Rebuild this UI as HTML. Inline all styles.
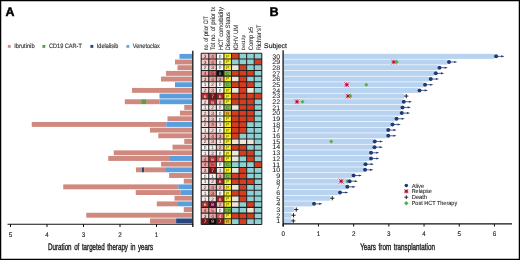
<!DOCTYPE html><html><head><meta charset="utf-8"><style>html,body{margin:0;padding:0;background:#fff;}svg{display:block;will-change:transform;}text{font-family:"Liberation Sans", sans-serif;text-rendering:geometricPrecision;}</style></head><body>
<svg width="520" height="260" viewBox="0 0 520 260">
<rect x="0" y="0" width="520" height="260" fill="#fff"/>
<rect x="0.6" y="0.6" width="518.8" height="258.8" fill="none" stroke="#000" stroke-width="1.3"/>
<text x="5.4" y="16.3" font-size="12.4" font-weight="bold" fill="#000" stroke="#000" stroke-width="0.5">A</text>
<text x="269.5" y="16.4" font-size="12.6" font-weight="bold" fill="#000" stroke="#000" stroke-width="0.4">B</text>
<rect x="7.80" y="44.95" width="2.9" height="2.9" fill="#d98a82"/>
<text x="14.20" y="48.2" font-size="6.3" fill="#333" stroke="#333" stroke-width="0.15" textLength="20.4" lengthAdjust="spacingAndGlyphs">Ibrutinib</text>
<rect x="42.40" y="44.95" width="2.9" height="2.9" fill="#4ea63e"/>
<text x="49.00" y="48.2" font-size="6.3" fill="#333" stroke="#333" stroke-width="0.15" textLength="32.8" lengthAdjust="spacingAndGlyphs">CD19 CAR-T</text>
<rect x="90.40" y="44.95" width="2.9" height="2.9" fill="#27467f"/>
<text x="96.80" y="48.2" font-size="6.3" fill="#333" stroke="#333" stroke-width="0.15" textLength="21.6" lengthAdjust="spacingAndGlyphs">Idelalisib</text>
<rect x="126.40" y="44.95" width="2.9" height="2.9" fill="#6aaae4"/>
<text x="132.80" y="48.2" font-size="6.3" fill="#333" stroke="#333" stroke-width="0.15" textLength="27.1" lengthAdjust="spacingAndGlyphs">Venetoclax</text>
<rect x="179.50" y="53.90" width="12.70" height="4.90" fill="#5b9edc"/>
<rect x="175.00" y="59.57" width="17.20" height="4.90" fill="#d0897f"/>
<rect x="177.50" y="65.25" width="14.70" height="4.90" fill="#d0897f"/>
<rect x="166.00" y="70.92" width="26.20" height="4.90" fill="#d0897f"/>
<rect x="161.00" y="76.60" width="31.20" height="4.90" fill="#d0897f"/>
<rect x="175.00" y="82.27" width="17.20" height="4.90" fill="#5b9edc"/>
<rect x="132.00" y="87.94" width="60.20" height="4.90" fill="#d0897f"/>
<rect x="159.50" y="93.62" width="32.70" height="4.90" fill="#5b9edc"/>
<rect x="124.80" y="99.29" width="16.35" height="4.90" fill="#d0897f"/>
<rect x="141.15" y="99.29" width="4.85" height="4.90" fill="#4ea63e"/>
<rect x="146.00" y="99.29" width="13.40" height="4.90" fill="#d0897f"/>
<rect x="159.40" y="99.29" width="32.80" height="4.90" fill="#5b9edc"/>
<rect x="184.25" y="104.97" width="7.95" height="4.90" fill="#d0897f"/>
<rect x="180.00" y="110.64" width="12.20" height="4.90" fill="#d0897f"/>
<rect x="167.50" y="116.31" width="24.70" height="4.90" fill="#d0897f"/>
<rect x="31.75" y="121.99" width="134.50" height="4.90" fill="#d0897f"/>
<rect x="166.25" y="121.99" width="25.95" height="4.90" fill="#5b9edc"/>
<rect x="150.00" y="127.66" width="42.20" height="4.90" fill="#d0897f"/>
<rect x="158.25" y="133.34" width="33.95" height="4.90" fill="#d0897f"/>
<rect x="184.25" y="139.01" width="7.95" height="4.90" fill="#d0897f"/>
<rect x="172.50" y="144.68" width="19.70" height="4.90" fill="#d0897f"/>
<rect x="113.75" y="150.36" width="78.45" height="4.90" fill="#d0897f"/>
<rect x="108.25" y="156.03" width="61.75" height="4.90" fill="#d0897f"/>
<rect x="170.00" y="156.03" width="22.20" height="4.90" fill="#5b9edc"/>
<rect x="161.10" y="161.71" width="31.10" height="4.90" fill="#d0897f"/>
<rect x="136.00" y="167.38" width="6.00" height="4.90" fill="#d0897f"/>
<rect x="142.00" y="167.38" width="2.20" height="4.90" fill="#27467f"/>
<rect x="144.20" y="167.38" width="20.90" height="4.90" fill="#d0897f"/>
<rect x="165.10" y="167.38" width="27.10" height="4.90" fill="#5b9edc"/>
<rect x="169.10" y="173.05" width="23.10" height="4.90" fill="#d0897f"/>
<rect x="183.75" y="178.73" width="8.45" height="4.90" fill="#d0897f"/>
<rect x="63.25" y="184.40" width="115.00" height="4.90" fill="#d0897f"/>
<rect x="178.25" y="184.40" width="13.95" height="4.90" fill="#5b9edc"/>
<rect x="135.75" y="190.08" width="45.00" height="4.90" fill="#d0897f"/>
<rect x="180.75" y="190.08" width="11.45" height="4.90" fill="#5b9edc"/>
<rect x="174.50" y="195.75" width="17.70" height="4.90" fill="#d0897f"/>
<rect x="156.75" y="201.42" width="21.25" height="4.90" fill="#d0897f"/>
<rect x="178.00" y="201.42" width="14.20" height="4.90" fill="#5b9edc"/>
<rect x="183.75" y="207.10" width="8.45" height="4.90" fill="#d0897f"/>
<rect x="86.25" y="212.77" width="105.95" height="4.90" fill="#d0897f"/>
<rect x="150.10" y="218.45" width="26.00" height="4.90" fill="#d0897f"/>
<rect x="176.10" y="218.45" width="16.10" height="4.90" fill="#27467f"/>
<line x1="192.8" y1="50.8" x2="192.8" y2="227" stroke="#111" stroke-width="1.3"/>
<line x1="7.5" y1="224.3" x2="193.4" y2="224.3" stroke="#111" stroke-width="1.1"/>
<line x1="10.50" y1="224" x2="10.50" y2="227" stroke="#111" stroke-width="1"/>
<text x="10.50" y="236.7" font-size="6.7" fill="#222" stroke="#222" stroke-width="0.12" text-anchor="middle" textLength="3.5" lengthAdjust="spacingAndGlyphs">5</text>
<line x1="47.00" y1="224" x2="47.00" y2="227" stroke="#111" stroke-width="1"/>
<text x="47.00" y="236.7" font-size="6.7" fill="#222" stroke="#222" stroke-width="0.12" text-anchor="middle" textLength="3.5" lengthAdjust="spacingAndGlyphs">4</text>
<line x1="83.50" y1="224" x2="83.50" y2="227" stroke="#111" stroke-width="1"/>
<text x="83.50" y="236.7" font-size="6.7" fill="#222" stroke="#222" stroke-width="0.12" text-anchor="middle" textLength="3.5" lengthAdjust="spacingAndGlyphs">3</text>
<line x1="120.00" y1="224" x2="120.00" y2="227" stroke="#111" stroke-width="1"/>
<text x="120.00" y="236.7" font-size="6.7" fill="#222" stroke="#222" stroke-width="0.12" text-anchor="middle" textLength="3.5" lengthAdjust="spacingAndGlyphs">2</text>
<line x1="156.50" y1="224" x2="156.50" y2="227" stroke="#111" stroke-width="1"/>
<text x="156.50" y="236.7" font-size="6.7" fill="#222" stroke="#222" stroke-width="0.12" text-anchor="middle" textLength="3.5" lengthAdjust="spacingAndGlyphs">1</text>
<text x="48.1" y="250" font-size="9.5" fill="#222" stroke="#222" stroke-width="0.4" word-spacing="1.3" textLength="105" lengthAdjust="spacingAndGlyphs">Duration of targeted therapy in years</text>
<text transform="translate(207.67,50.3) rotate(-90)" x="0" y="0" font-size="6.4" fill="#222" stroke="#222" stroke-width="0.06" textLength="34.2" lengthAdjust="spacingAndGlyphs">no. of prior CIT</text>
<text transform="translate(215.25,50.3) rotate(-90)" x="0" y="0" font-size="6.4" fill="#222" stroke="#222" stroke-width="0.06" textLength="43.4" lengthAdjust="spacingAndGlyphs">Tot no. of prior tx</text>
<text transform="translate(222.82,50.3) rotate(-90)" x="0" y="0" font-size="6.4" fill="#222" stroke="#222" stroke-width="0.06" textLength="43.2" lengthAdjust="spacingAndGlyphs">HCT comorbidity</text>
<text transform="translate(230.40,50.3) rotate(-90)" x="0" y="0" font-size="6.4" fill="#222" stroke="#222" stroke-width="0.06" textLength="38.2" lengthAdjust="spacingAndGlyphs">Disease Status</text>
<text transform="translate(237.97,50.3) rotate(-90)" x="0" y="0" font-size="6.4" fill="#222" stroke="#222" stroke-width="0.06" textLength="25.6" lengthAdjust="spacingAndGlyphs">IGHV UM</text>
<text transform="translate(244.79,50.3) rotate(-90)" x="0" y="0" font-size="4.6" fill="#222" stroke="#222" stroke-width="0.06" textLength="15.4" lengthAdjust="spacingAndGlyphs">Del17p</text>
<text transform="translate(253.12,50.3) rotate(-90)" x="0" y="0" font-size="6.4" fill="#222" stroke="#222" stroke-width="0.06" textLength="23.6" lengthAdjust="spacingAndGlyphs">Comp ≥5</text>
<text transform="translate(260.70,50.3) rotate(-90)" x="0" y="0" font-size="6.4" fill="#222" stroke="#222" stroke-width="0.06" textLength="25.6" lengthAdjust="spacingAndGlyphs">Richter&#39;sT</text>
<rect x="201.20" y="53.30" width="7.58" height="5.71" fill="#f6c8c8"/>
<text transform="translate(204.99,57.85) scale(0.1)" font-size="48" fill="#2a2a2a" text-anchor="middle">3</text>
<rect x="208.77" y="53.30" width="7.58" height="5.71" fill="#f0a0a0"/>
<text transform="translate(212.56,57.85) scale(0.1)" font-size="48" fill="#2a2a2a" text-anchor="middle">4</text>
<rect x="216.35" y="53.30" width="7.58" height="5.71" fill="#ffffff"/>
<text transform="translate(220.14,57.85) scale(0.1)" font-size="48" fill="#2a2a2a" text-anchor="middle">0</text>
<rect x="223.92" y="53.30" width="7.58" height="5.71" fill="#f7ef1e"/>
<text x="227.71" y="57.65" font-size="4.4" fill="#4a4a10" text-anchor="middle">P</text>
<rect x="231.50" y="53.30" width="7.58" height="5.71" fill="#d63d1f"/>
<rect x="239.07" y="53.30" width="7.58" height="5.71" fill="#8fd0d3"/>
<rect x="246.65" y="53.30" width="7.58" height="5.71" fill="#8fd0d3"/>
<rect x="254.22" y="53.30" width="7.58" height="5.71" fill="#8fd0d3"/>
<rect x="201.20" y="59.01" width="7.58" height="5.71" fill="#f6c8c8"/>
<text transform="translate(204.99,63.56) scale(0.1)" font-size="48" fill="#2a2a2a" text-anchor="middle">3</text>
<rect x="208.77" y="59.01" width="7.58" height="5.71" fill="#f0a0a0"/>
<text transform="translate(212.56,63.56) scale(0.1)" font-size="48" fill="#2a2a2a" text-anchor="middle">4</text>
<rect x="216.35" y="59.01" width="7.58" height="5.71" fill="#ffffff"/>
<text transform="translate(220.14,63.56) scale(0.1)" font-size="48" fill="#2a2a2a" text-anchor="middle">0</text>
<rect x="223.92" y="59.01" width="7.58" height="5.71" fill="#f7ef1e"/>
<text x="227.71" y="63.36" font-size="4.4" fill="#4a4a10" text-anchor="middle">P</text>
<rect x="231.50" y="59.01" width="7.58" height="5.71" fill="#8fd0d3"/>
<rect x="239.07" y="59.01" width="7.58" height="5.71" fill="#8fd0d3"/>
<rect x="246.65" y="59.01" width="7.58" height="5.71" fill="#8fd0d3"/>
<rect x="254.22" y="59.01" width="7.58" height="5.71" fill="#d63d1f"/>
<rect x="201.20" y="64.71" width="7.58" height="5.71" fill="#fbdcdc"/>
<text transform="translate(204.99,69.27) scale(0.1)" font-size="48" fill="#2a2a2a" text-anchor="middle">2</text>
<rect x="208.77" y="64.71" width="7.58" height="5.71" fill="#f6c8c8"/>
<text transform="translate(212.56,69.27) scale(0.1)" font-size="48" fill="#2a2a2a" text-anchor="middle">3</text>
<rect x="216.35" y="64.71" width="7.58" height="5.71" fill="#ffffff"/>
<text transform="translate(220.14,69.27) scale(0.1)" font-size="48" fill="#2a2a2a" text-anchor="middle">0</text>
<rect x="223.92" y="64.71" width="7.58" height="5.71" fill="#f7ef1e"/>
<text x="227.71" y="69.07" font-size="4.4" fill="#4a4a10" text-anchor="middle">P</text>
<rect x="231.50" y="64.71" width="7.58" height="5.71" fill="#ede7d8"/>
<rect x="239.07" y="64.71" width="7.58" height="5.71" fill="#d63d1f"/>
<rect x="246.65" y="64.71" width="7.58" height="5.71" fill="#8fd0d3"/>
<rect x="254.22" y="64.71" width="7.58" height="5.71" fill="#8fd0d3"/>
<rect x="201.20" y="70.42" width="7.58" height="5.71" fill="#f0a0a0"/>
<text transform="translate(204.99,74.97) scale(0.1)" font-size="48" fill="#2a2a2a" text-anchor="middle">4</text>
<rect x="208.77" y="70.42" width="7.58" height="5.71" fill="#d85858"/>
<text transform="translate(212.56,74.97) scale(0.1)" font-size="48" fill="#2a2a2a" text-anchor="middle">5</text>
<rect x="216.35" y="70.42" width="7.58" height="5.71" fill="#111111"/>
<text transform="translate(220.14,74.97) scale(0.1)" font-size="48" fill="#999" text-anchor="middle">8</text>
<rect x="223.92" y="70.42" width="7.58" height="5.71" fill="#7cba44"/>
<text x="227.71" y="74.77" font-size="4.4" fill="#4a4a10" text-anchor="middle">C</text>
<rect x="231.50" y="70.42" width="7.58" height="5.71" fill="#d63d1f"/>
<rect x="239.07" y="70.42" width="7.58" height="5.71" fill="#d63d1f"/>
<rect x="246.65" y="70.42" width="7.58" height="5.71" fill="#d63d1f"/>
<rect x="254.22" y="70.42" width="7.58" height="5.71" fill="#8fd0d3"/>
<rect x="201.20" y="76.13" width="7.58" height="5.71" fill="#f6c8c8"/>
<text transform="translate(204.99,80.68) scale(0.1)" font-size="48" fill="#2a2a2a" text-anchor="middle">3</text>
<rect x="208.77" y="76.13" width="7.58" height="5.71" fill="#f0a0a0"/>
<text transform="translate(212.56,80.68) scale(0.1)" font-size="48" fill="#2a2a2a" text-anchor="middle">4</text>
<rect x="216.35" y="76.13" width="7.58" height="5.71" fill="#f0a8a8"/>
<text transform="translate(220.14,80.68) scale(0.1)" font-size="48" fill="#2a2a2a" text-anchor="middle">3</text>
<rect x="223.92" y="76.13" width="7.58" height="5.71" fill="#f7ef1e"/>
<text x="227.71" y="80.48" font-size="4.4" fill="#4a4a10" text-anchor="middle">P</text>
<rect x="231.50" y="76.13" width="7.58" height="5.71" fill="#ede7d8"/>
<rect x="239.07" y="76.13" width="7.58" height="5.71" fill="#d63d1f"/>
<rect x="246.65" y="76.13" width="7.58" height="5.71" fill="#8fd0d3"/>
<rect x="254.22" y="76.13" width="7.58" height="5.71" fill="#8fd0d3"/>
<rect x="201.20" y="81.83" width="7.58" height="5.71" fill="#fdeeee"/>
<text transform="translate(204.99,86.39) scale(0.1)" font-size="48" fill="#2a2a2a" text-anchor="middle">1</text>
<rect x="208.77" y="81.83" width="7.58" height="5.71" fill="#fbdcdc"/>
<text transform="translate(212.56,86.39) scale(0.1)" font-size="48" fill="#2a2a2a" text-anchor="middle">2</text>
<rect x="216.35" y="81.83" width="7.58" height="5.71" fill="#ffffff"/>
<text transform="translate(220.14,86.39) scale(0.1)" font-size="48" fill="#2a2a2a" text-anchor="middle">0</text>
<rect x="223.92" y="81.83" width="7.58" height="5.71" fill="#7cba44"/>
<text x="227.71" y="86.19" font-size="4.4" fill="#4a4a10" text-anchor="middle">C</text>
<rect x="231.50" y="81.83" width="7.58" height="5.71" fill="#d63d1f"/>
<rect x="239.07" y="81.83" width="7.58" height="5.71" fill="#d63d1f"/>
<rect x="246.65" y="81.83" width="7.58" height="5.71" fill="#d63d1f"/>
<rect x="254.22" y="81.83" width="7.58" height="5.71" fill="#8fd0d3"/>
<rect x="201.20" y="87.54" width="7.58" height="5.71" fill="#fbdcdc"/>
<text transform="translate(204.99,92.10) scale(0.1)" font-size="48" fill="#2a2a2a" text-anchor="middle">2</text>
<rect x="208.77" y="87.54" width="7.58" height="5.71" fill="#f6c8c8"/>
<text transform="translate(212.56,92.10) scale(0.1)" font-size="48" fill="#2a2a2a" text-anchor="middle">3</text>
<rect x="216.35" y="87.54" width="7.58" height="5.71" fill="#ffffff"/>
<text transform="translate(220.14,92.10) scale(0.1)" font-size="48" fill="#2a2a2a" text-anchor="middle">0</text>
<rect x="223.92" y="87.54" width="7.58" height="5.71" fill="#f7ef1e"/>
<text x="227.71" y="91.90" font-size="4.4" fill="#4a4a10" text-anchor="middle">P</text>
<rect x="231.50" y="87.54" width="7.58" height="5.71" fill="#ede7d8"/>
<rect x="239.07" y="87.54" width="7.58" height="5.71" fill="#d63d1f"/>
<rect x="246.65" y="87.54" width="7.58" height="5.71" fill="#ede7d8"/>
<rect x="254.22" y="87.54" width="7.58" height="5.71" fill="#8fd0d3"/>
<rect x="201.20" y="93.25" width="7.58" height="5.71" fill="#b83030"/>
<text transform="translate(204.99,97.80) scale(0.1)" font-size="48" fill="#f4e4e4" text-anchor="middle">6</text>
<rect x="208.77" y="93.25" width="7.58" height="5.71" fill="#7c1414"/>
<text transform="translate(212.56,97.80) scale(0.1)" font-size="48" fill="#f4e4e4" text-anchor="middle">7</text>
<rect x="216.35" y="93.25" width="7.58" height="5.71" fill="#a82222"/>
<text transform="translate(220.14,97.80) scale(0.1)" font-size="48" fill="#f4e4e4" text-anchor="middle">6</text>
<rect x="223.92" y="93.25" width="7.58" height="5.71" fill="#f7ef1e"/>
<text x="227.71" y="97.60" font-size="4.4" fill="#4a4a10" text-anchor="middle">P</text>
<rect x="231.50" y="93.25" width="7.58" height="5.71" fill="#d63d1f"/>
<rect x="239.07" y="93.25" width="7.58" height="5.71" fill="#d63d1f"/>
<rect x="246.65" y="93.25" width="7.58" height="5.71" fill="#d63d1f"/>
<rect x="254.22" y="93.25" width="7.58" height="5.71" fill="#d63d1f"/>
<rect x="201.20" y="98.96" width="7.58" height="5.71" fill="#fbdcdc"/>
<text transform="translate(204.99,103.51) scale(0.1)" font-size="48" fill="#2a2a2a" text-anchor="middle">2</text>
<rect x="208.77" y="98.96" width="7.58" height="5.71" fill="#b83030"/>
<text transform="translate(212.56,103.51) scale(0.1)" font-size="48" fill="#f4e4e4" text-anchor="middle">6</text>
<rect x="216.35" y="98.96" width="7.58" height="5.71" fill="#f4bcbc"/>
<text transform="translate(220.14,103.51) scale(0.1)" font-size="48" fill="#2a2a2a" text-anchor="middle">2</text>
<rect x="223.92" y="98.96" width="7.58" height="5.71" fill="#f7ef1e"/>
<text x="227.71" y="103.31" font-size="4.4" fill="#4a4a10" text-anchor="middle">P</text>
<rect x="231.50" y="98.96" width="7.58" height="5.71" fill="#d63d1f"/>
<rect x="239.07" y="98.96" width="7.58" height="5.71" fill="#d63d1f"/>
<rect x="246.65" y="98.96" width="7.58" height="5.71" fill="#d63d1f"/>
<rect x="254.22" y="98.96" width="7.58" height="5.71" fill="#8fd0d3"/>
<rect x="201.20" y="104.66" width="7.58" height="5.71" fill="#fdeeee"/>
<text transform="translate(204.99,109.22) scale(0.1)" font-size="48" fill="#2a2a2a" text-anchor="middle">1</text>
<rect x="208.77" y="104.66" width="7.58" height="5.71" fill="#fbdcdc"/>
<text transform="translate(212.56,109.22) scale(0.1)" font-size="48" fill="#2a2a2a" text-anchor="middle">2</text>
<rect x="216.35" y="104.66" width="7.58" height="5.71" fill="#ffffff"/>
<text transform="translate(220.14,109.22) scale(0.1)" font-size="48" fill="#2a2a2a" text-anchor="middle">0</text>
<rect x="223.92" y="104.66" width="7.58" height="5.71" fill="#7cba44"/>
<text x="227.71" y="109.02" font-size="4.4" fill="#4a4a10" text-anchor="middle">C</text>
<rect x="231.50" y="104.66" width="7.58" height="5.71" fill="#ede7d8"/>
<rect x="239.07" y="104.66" width="7.58" height="5.71" fill="#d63d1f"/>
<rect x="246.65" y="104.66" width="7.58" height="5.71" fill="#d63d1f"/>
<rect x="254.22" y="104.66" width="7.58" height="5.71" fill="#8fd0d3"/>
<rect x="201.20" y="110.37" width="7.58" height="5.71" fill="#fbdcdc"/>
<text transform="translate(204.99,114.92) scale(0.1)" font-size="48" fill="#2a2a2a" text-anchor="middle">2</text>
<rect x="208.77" y="110.37" width="7.58" height="5.71" fill="#f6c8c8"/>
<text transform="translate(212.56,114.92) scale(0.1)" font-size="48" fill="#2a2a2a" text-anchor="middle">3</text>
<rect x="216.35" y="110.37" width="7.58" height="5.71" fill="#ffffff"/>
<text transform="translate(220.14,114.92) scale(0.1)" font-size="48" fill="#2a2a2a" text-anchor="middle">0</text>
<rect x="223.92" y="110.37" width="7.58" height="5.71" fill="#f2b21a"/>
<text x="227.71" y="114.72" font-size="4.4" fill="#4a4a10" text-anchor="middle">R</text>
<rect x="231.50" y="110.37" width="7.58" height="5.71" fill="#d63d1f"/>
<rect x="239.07" y="110.37" width="7.58" height="5.71" fill="#d63d1f"/>
<rect x="246.65" y="110.37" width="7.58" height="5.71" fill="#d63d1f"/>
<rect x="254.22" y="110.37" width="7.58" height="5.71" fill="#8fd0d3"/>
<rect x="201.20" y="116.08" width="7.58" height="5.71" fill="#fbdcdc"/>
<text transform="translate(204.99,120.63) scale(0.1)" font-size="48" fill="#2a2a2a" text-anchor="middle">2</text>
<rect x="208.77" y="116.08" width="7.58" height="5.71" fill="#f6c8c8"/>
<text transform="translate(212.56,120.63) scale(0.1)" font-size="48" fill="#2a2a2a" text-anchor="middle">3</text>
<rect x="216.35" y="116.08" width="7.58" height="5.71" fill="#ffffff"/>
<text transform="translate(220.14,120.63) scale(0.1)" font-size="48" fill="#2a2a2a" text-anchor="middle">0</text>
<rect x="223.92" y="116.08" width="7.58" height="5.71" fill="#f7ef1e"/>
<text x="227.71" y="120.43" font-size="4.4" fill="#4a4a10" text-anchor="middle">P</text>
<rect x="231.50" y="116.08" width="7.58" height="5.71" fill="#d63d1f"/>
<rect x="239.07" y="116.08" width="7.58" height="5.71" fill="#d63d1f"/>
<rect x="246.65" y="116.08" width="7.58" height="5.71" fill="#d63d1f"/>
<rect x="254.22" y="116.08" width="7.58" height="5.71" fill="#8fd0d3"/>
<rect x="201.20" y="121.78" width="7.58" height="5.71" fill="#fbdcdc"/>
<text transform="translate(204.99,126.34) scale(0.1)" font-size="48" fill="#2a2a2a" text-anchor="middle">2</text>
<rect x="208.77" y="121.78" width="7.58" height="5.71" fill="#f0a0a0"/>
<text transform="translate(212.56,126.34) scale(0.1)" font-size="48" fill="#2a2a2a" text-anchor="middle">4</text>
<rect x="216.35" y="121.78" width="7.58" height="5.71" fill="#fce6e6"/>
<text transform="translate(220.14,126.34) scale(0.1)" font-size="48" fill="#2a2a2a" text-anchor="middle">1</text>
<rect x="223.92" y="121.78" width="7.58" height="5.71" fill="#f7ef1e"/>
<text x="227.71" y="126.14" font-size="4.4" fill="#4a4a10" text-anchor="middle">P</text>
<rect x="231.50" y="121.78" width="7.58" height="5.71" fill="#d63d1f"/>
<rect x="239.07" y="121.78" width="7.58" height="5.71" fill="#d63d1f"/>
<rect x="246.65" y="121.78" width="7.58" height="5.71" fill="#8fd0d3"/>
<rect x="254.22" y="121.78" width="7.58" height="5.71" fill="#8fd0d3"/>
<rect x="201.20" y="127.49" width="7.58" height="5.71" fill="#fdeeee"/>
<text transform="translate(204.99,132.04) scale(0.1)" font-size="48" fill="#2a2a2a" text-anchor="middle">1</text>
<rect x="208.77" y="127.49" width="7.58" height="5.71" fill="#fbdcdc"/>
<text transform="translate(212.56,132.04) scale(0.1)" font-size="48" fill="#2a2a2a" text-anchor="middle">2</text>
<rect x="216.35" y="127.49" width="7.58" height="5.71" fill="#ffffff"/>
<text transform="translate(220.14,132.04) scale(0.1)" font-size="48" fill="#2a2a2a" text-anchor="middle">0</text>
<rect x="223.92" y="127.49" width="7.58" height="5.71" fill="#f7ef1e"/>
<text x="227.71" y="131.84" font-size="4.4" fill="#4a4a10" text-anchor="middle">P</text>
<rect x="231.50" y="127.49" width="7.58" height="5.71" fill="#d63d1f"/>
<rect x="239.07" y="127.49" width="7.58" height="5.71" fill="#d63d1f"/>
<rect x="246.65" y="127.49" width="7.58" height="5.71" fill="#8fd0d3"/>
<rect x="254.22" y="127.49" width="7.58" height="5.71" fill="#8fd0d3"/>
<rect x="201.20" y="133.20" width="7.58" height="5.71" fill="#f6c8c8"/>
<text transform="translate(204.99,137.75) scale(0.1)" font-size="48" fill="#2a2a2a" text-anchor="middle">3</text>
<rect x="208.77" y="133.20" width="7.58" height="5.71" fill="#f0a0a0"/>
<text transform="translate(212.56,137.75) scale(0.1)" font-size="48" fill="#2a2a2a" text-anchor="middle">4</text>
<rect x="216.35" y="133.20" width="7.58" height="5.71" fill="#f0a8a8"/>
<text transform="translate(220.14,137.75) scale(0.1)" font-size="48" fill="#2a2a2a" text-anchor="middle">3</text>
<rect x="223.92" y="133.20" width="7.58" height="5.71" fill="#f7ef1e"/>
<text x="227.71" y="137.55" font-size="4.4" fill="#4a4a10" text-anchor="middle">P</text>
<rect x="231.50" y="133.20" width="7.58" height="5.71" fill="#d63d1f"/>
<rect x="239.07" y="133.20" width="7.58" height="5.71" fill="#8fd0d3"/>
<rect x="246.65" y="133.20" width="7.58" height="5.71" fill="#8fd0d3"/>
<rect x="254.22" y="133.20" width="7.58" height="5.71" fill="#8fd0d3"/>
<rect x="201.20" y="138.91" width="7.58" height="5.71" fill="#fbdcdc"/>
<text transform="translate(204.99,143.46) scale(0.1)" font-size="48" fill="#2a2a2a" text-anchor="middle">2</text>
<rect x="208.77" y="138.91" width="7.58" height="5.71" fill="#f6c8c8"/>
<text transform="translate(212.56,143.46) scale(0.1)" font-size="48" fill="#2a2a2a" text-anchor="middle">3</text>
<rect x="216.35" y="138.91" width="7.58" height="5.71" fill="#fce6e6"/>
<text transform="translate(220.14,143.46) scale(0.1)" font-size="48" fill="#2a2a2a" text-anchor="middle">1</text>
<rect x="223.92" y="138.91" width="7.58" height="5.71" fill="#f7ef1e"/>
<text x="227.71" y="143.26" font-size="4.4" fill="#4a4a10" text-anchor="middle">P</text>
<rect x="231.50" y="138.91" width="7.58" height="5.71" fill="#ede7d8"/>
<rect x="239.07" y="138.91" width="7.58" height="5.71" fill="#ede7d8"/>
<rect x="246.65" y="138.91" width="7.58" height="5.71" fill="#ede7d8"/>
<rect x="254.22" y="138.91" width="7.58" height="5.71" fill="#8fd0d3"/>
<rect x="201.20" y="144.61" width="7.58" height="5.71" fill="#ffffff"/>
<text transform="translate(204.99,149.17) scale(0.1)" font-size="48" fill="#2a2a2a" text-anchor="middle">0</text>
<rect x="208.77" y="144.61" width="7.58" height="5.71" fill="#fdeeee"/>
<text transform="translate(212.56,149.17) scale(0.1)" font-size="48" fill="#2a2a2a" text-anchor="middle">1</text>
<rect x="216.35" y="144.61" width="7.58" height="5.71" fill="#f4bcbc"/>
<text transform="translate(220.14,149.17) scale(0.1)" font-size="48" fill="#2a2a2a" text-anchor="middle">2</text>
<rect x="223.92" y="144.61" width="7.58" height="5.71" fill="#f7ef1e"/>
<text x="227.71" y="148.97" font-size="4.4" fill="#4a4a10" text-anchor="middle">P</text>
<rect x="231.50" y="144.61" width="7.58" height="5.71" fill="#d63d1f"/>
<rect x="239.07" y="144.61" width="7.58" height="5.71" fill="#d63d1f"/>
<rect x="246.65" y="144.61" width="7.58" height="5.71" fill="#8fd0d3"/>
<rect x="254.22" y="144.61" width="7.58" height="5.71" fill="#8fd0d3"/>
<rect x="201.20" y="150.32" width="7.58" height="5.71" fill="#fdeeee"/>
<text transform="translate(204.99,154.87) scale(0.1)" font-size="48" fill="#2a2a2a" text-anchor="middle">1</text>
<rect x="208.77" y="150.32" width="7.58" height="5.71" fill="#fbdcdc"/>
<text transform="translate(212.56,154.87) scale(0.1)" font-size="48" fill="#2a2a2a" text-anchor="middle">2</text>
<rect x="216.35" y="150.32" width="7.58" height="5.71" fill="#ffffff"/>
<text transform="translate(220.14,154.87) scale(0.1)" font-size="48" fill="#2a2a2a" text-anchor="middle">0</text>
<rect x="223.92" y="150.32" width="7.58" height="5.71" fill="#f7ef1e"/>
<text x="227.71" y="154.67" font-size="4.4" fill="#4a4a10" text-anchor="middle">P</text>
<rect x="231.50" y="150.32" width="7.58" height="5.71" fill="#ede7d8"/>
<rect x="239.07" y="150.32" width="7.58" height="5.71" fill="#d63d1f"/>
<rect x="246.65" y="150.32" width="7.58" height="5.71" fill="#d63d1f"/>
<rect x="254.22" y="150.32" width="7.58" height="5.71" fill="#8fd0d3"/>
<rect x="201.20" y="156.03" width="7.58" height="5.71" fill="#f0a0a0"/>
<text transform="translate(204.99,160.58) scale(0.1)" font-size="48" fill="#2a2a2a" text-anchor="middle">4</text>
<rect x="208.77" y="156.03" width="7.58" height="5.71" fill="#b83030"/>
<text transform="translate(212.56,160.58) scale(0.1)" font-size="48" fill="#f4e4e4" text-anchor="middle">6</text>
<rect x="216.35" y="156.03" width="7.58" height="5.71" fill="#d85050"/>
<text transform="translate(220.14,160.58) scale(0.1)" font-size="48" fill="#f4e4e4" text-anchor="middle">4</text>
<rect x="223.92" y="156.03" width="7.58" height="5.71" fill="#f7ef1e"/>
<text x="227.71" y="160.38" font-size="4.4" fill="#4a4a10" text-anchor="middle">P</text>
<rect x="231.50" y="156.03" width="7.58" height="5.71" fill="#ede7d8"/>
<rect x="239.07" y="156.03" width="7.58" height="5.71" fill="#8fd0d3"/>
<rect x="246.65" y="156.03" width="7.58" height="5.71" fill="#d63d1f"/>
<rect x="254.22" y="156.03" width="7.58" height="5.71" fill="#8fd0d3"/>
<rect x="201.20" y="161.73" width="7.58" height="5.71" fill="#f0a0a0"/>
<text transform="translate(204.99,166.29) scale(0.1)" font-size="48" fill="#2a2a2a" text-anchor="middle">4</text>
<rect x="208.77" y="161.73" width="7.58" height="5.71" fill="#d85858"/>
<text transform="translate(212.56,166.29) scale(0.1)" font-size="48" fill="#2a2a2a" text-anchor="middle">5</text>
<rect x="216.35" y="161.73" width="7.58" height="5.71" fill="#ffffff"/>
<text transform="translate(220.14,166.29) scale(0.1)" font-size="48" fill="#2a2a2a" text-anchor="middle">0</text>
<rect x="223.92" y="161.73" width="7.58" height="5.71" fill="#7cba44"/>
<text x="227.71" y="166.09" font-size="4.4" fill="#4a4a10" text-anchor="middle">C</text>
<rect x="231.50" y="161.73" width="7.58" height="5.71" fill="#8fd0d3"/>
<rect x="239.07" y="161.73" width="7.58" height="5.71" fill="#8fd0d3"/>
<rect x="246.65" y="161.73" width="7.58" height="5.71" fill="#8fd0d3"/>
<rect x="254.22" y="161.73" width="7.58" height="5.71" fill="#d63d1f"/>
<rect x="201.20" y="167.44" width="7.58" height="5.71" fill="#f6c8c8"/>
<text transform="translate(204.99,171.99) scale(0.1)" font-size="48" fill="#2a2a2a" text-anchor="middle">3</text>
<rect x="208.77" y="167.44" width="7.58" height="5.71" fill="#7c1414"/>
<text transform="translate(212.56,171.99) scale(0.1)" font-size="48" fill="#f4e4e4" text-anchor="middle">7</text>
<rect x="216.35" y="167.44" width="7.58" height="5.71" fill="#fce6e6"/>
<text transform="translate(220.14,171.99) scale(0.1)" font-size="48" fill="#2a2a2a" text-anchor="middle">1</text>
<rect x="223.92" y="167.44" width="7.58" height="5.71" fill="#f7ef1e"/>
<text x="227.71" y="171.79" font-size="4.4" fill="#4a4a10" text-anchor="middle">P</text>
<rect x="231.50" y="167.44" width="7.58" height="5.71" fill="#ede7d8"/>
<rect x="239.07" y="167.44" width="7.58" height="5.71" fill="#d63d1f"/>
<rect x="246.65" y="167.44" width="7.58" height="5.71" fill="#8fd0d3"/>
<rect x="254.22" y="167.44" width="7.58" height="5.71" fill="#8fd0d3"/>
<rect x="201.20" y="173.15" width="7.58" height="5.71" fill="#ffffff"/>
<text transform="translate(204.99,177.70) scale(0.1)" font-size="48" fill="#2a2a2a" text-anchor="middle">0</text>
<rect x="208.77" y="173.15" width="7.58" height="5.71" fill="#fdeeee"/>
<text transform="translate(212.56,177.70) scale(0.1)" font-size="48" fill="#2a2a2a" text-anchor="middle">1</text>
<rect x="216.35" y="173.15" width="7.58" height="5.71" fill="#f0a8a8"/>
<text transform="translate(220.14,177.70) scale(0.1)" font-size="48" fill="#2a2a2a" text-anchor="middle">3</text>
<rect x="223.92" y="173.15" width="7.58" height="5.71" fill="#7cba44"/>
<text x="227.71" y="177.50" font-size="4.4" fill="#4a4a10" text-anchor="middle">C</text>
<rect x="231.50" y="173.15" width="7.58" height="5.71" fill="#d63d1f"/>
<rect x="239.07" y="173.15" width="7.58" height="5.71" fill="#d63d1f"/>
<rect x="246.65" y="173.15" width="7.58" height="5.71" fill="#8fd0d3"/>
<rect x="254.22" y="173.15" width="7.58" height="5.71" fill="#8fd0d3"/>
<rect x="201.20" y="178.85" width="7.58" height="5.71" fill="#fdeeee"/>
<text transform="translate(204.99,183.41) scale(0.1)" font-size="48" fill="#2a2a2a" text-anchor="middle">1</text>
<rect x="208.77" y="178.85" width="7.58" height="5.71" fill="#fbdcdc"/>
<text transform="translate(212.56,183.41) scale(0.1)" font-size="48" fill="#2a2a2a" text-anchor="middle">2</text>
<rect x="216.35" y="178.85" width="7.58" height="5.71" fill="#a82222"/>
<text transform="translate(220.14,183.41) scale(0.1)" font-size="48" fill="#f4e4e4" text-anchor="middle">6</text>
<rect x="223.92" y="178.85" width="7.58" height="5.71" fill="#f7ef1e"/>
<text x="227.71" y="183.21" font-size="4.4" fill="#4a4a10" text-anchor="middle">P</text>
<rect x="231.50" y="178.85" width="7.58" height="5.71" fill="#d63d1f"/>
<rect x="239.07" y="178.85" width="7.58" height="5.71" fill="#d63d1f"/>
<rect x="246.65" y="178.85" width="7.58" height="5.71" fill="#d63d1f"/>
<rect x="254.22" y="178.85" width="7.58" height="5.71" fill="#8fd0d3"/>
<rect x="201.20" y="184.56" width="7.58" height="5.71" fill="#fbdcdc"/>
<text transform="translate(204.99,189.11) scale(0.1)" font-size="48" fill="#2a2a2a" text-anchor="middle">2</text>
<rect x="208.77" y="184.56" width="7.58" height="5.71" fill="#f0a0a0"/>
<text transform="translate(212.56,189.11) scale(0.1)" font-size="48" fill="#2a2a2a" text-anchor="middle">4</text>
<rect x="216.35" y="184.56" width="7.58" height="5.71" fill="#f4bcbc"/>
<text transform="translate(220.14,189.11) scale(0.1)" font-size="48" fill="#2a2a2a" text-anchor="middle">2</text>
<rect x="223.92" y="184.56" width="7.58" height="5.71" fill="#f7ef1e"/>
<text x="227.71" y="188.91" font-size="4.4" fill="#4a4a10" text-anchor="middle">P</text>
<rect x="231.50" y="184.56" width="7.58" height="5.71" fill="#ede7d8"/>
<rect x="239.07" y="184.56" width="7.58" height="5.71" fill="#d63d1f"/>
<rect x="246.65" y="184.56" width="7.58" height="5.71" fill="#8fd0d3"/>
<rect x="254.22" y="184.56" width="7.58" height="5.71" fill="#8fd0d3"/>
<rect x="201.20" y="190.27" width="7.58" height="5.71" fill="#fdeeee"/>
<text transform="translate(204.99,194.82) scale(0.1)" font-size="48" fill="#2a2a2a" text-anchor="middle">1</text>
<rect x="208.77" y="190.27" width="7.58" height="5.71" fill="#e8968a"/>
<text transform="translate(212.56,194.82) scale(0.1)" font-size="48" fill="#2a2a2a" text-anchor="middle">3</text>
<rect x="216.35" y="190.27" width="7.58" height="5.71" fill="#ffffff"/>
<text transform="translate(220.14,194.82) scale(0.1)" font-size="48" fill="#2a2a2a" text-anchor="middle">0</text>
<rect x="223.92" y="190.27" width="7.58" height="5.71" fill="#f7ef1e"/>
<text x="227.71" y="194.62" font-size="4.4" fill="#4a4a10" text-anchor="middle">P</text>
<rect x="231.50" y="190.27" width="7.58" height="5.71" fill="#d63d1f"/>
<rect x="239.07" y="190.27" width="7.58" height="5.71" fill="#d63d1f"/>
<rect x="246.65" y="190.27" width="7.58" height="5.71" fill="#8fd0d3"/>
<rect x="254.22" y="190.27" width="7.58" height="5.71" fill="#8fd0d3"/>
<rect x="201.20" y="195.97" width="7.58" height="5.71" fill="#fdeeee"/>
<text transform="translate(204.99,200.53) scale(0.1)" font-size="48" fill="#2a2a2a" text-anchor="middle">1</text>
<rect x="208.77" y="195.97" width="7.58" height="5.71" fill="#fbdcdc"/>
<text transform="translate(212.56,200.53) scale(0.1)" font-size="48" fill="#2a2a2a" text-anchor="middle">2</text>
<rect x="216.35" y="195.97" width="7.58" height="5.71" fill="#a82222"/>
<text transform="translate(220.14,200.53) scale(0.1)" font-size="48" fill="#f4e4e4" text-anchor="middle">6</text>
<rect x="223.92" y="195.97" width="7.58" height="5.71" fill="#f7ef1e"/>
<text x="227.71" y="200.33" font-size="4.4" fill="#4a4a10" text-anchor="middle">P</text>
<rect x="231.50" y="195.97" width="7.58" height="5.71" fill="#ede7d8"/>
<rect x="239.07" y="195.97" width="7.58" height="5.71" fill="#d63d1f"/>
<rect x="246.65" y="195.97" width="7.58" height="5.71" fill="#8fd0d3"/>
<rect x="254.22" y="195.97" width="7.58" height="5.71" fill="#8fd0d3"/>
<rect x="201.20" y="201.68" width="7.58" height="5.71" fill="#b83030"/>
<text transform="translate(204.99,206.24) scale(0.1)" font-size="48" fill="#f4e4e4" text-anchor="middle">6</text>
<rect x="208.77" y="201.68" width="7.58" height="5.71" fill="#640a30"/>
<text transform="translate(212.56,206.24) scale(0.1)" font-size="48" fill="#f4e4e4" text-anchor="middle">8</text>
<rect x="216.35" y="201.68" width="7.58" height="5.71" fill="#f4bcbc"/>
<text transform="translate(220.14,206.24) scale(0.1)" font-size="48" fill="#2a2a2a" text-anchor="middle">2</text>
<rect x="223.92" y="201.68" width="7.58" height="5.71" fill="#f7ef1e"/>
<text x="227.71" y="206.04" font-size="4.4" fill="#4a4a10" text-anchor="middle">P</text>
<rect x="231.50" y="201.68" width="7.58" height="5.71" fill="#ede7d8"/>
<rect x="239.07" y="201.68" width="7.58" height="5.71" fill="#8fd0d3"/>
<rect x="246.65" y="201.68" width="7.58" height="5.71" fill="#d63d1f"/>
<rect x="254.22" y="201.68" width="7.58" height="5.71" fill="#8fd0d3"/>
<rect x="201.20" y="207.39" width="7.58" height="5.71" fill="#f0a0a0"/>
<text transform="translate(204.99,211.94) scale(0.1)" font-size="48" fill="#2a2a2a" text-anchor="middle">4</text>
<rect x="208.77" y="207.39" width="7.58" height="5.71" fill="#f0a0a0"/>
<text transform="translate(212.56,211.94) scale(0.1)" font-size="48" fill="#2a2a2a" text-anchor="middle">5</text>
<rect x="216.35" y="207.39" width="7.58" height="5.71" fill="#ffffff"/>
<text transform="translate(220.14,211.94) scale(0.1)" font-size="48" fill="#2a2a2a" text-anchor="middle">0</text>
<rect x="223.92" y="207.39" width="7.58" height="5.71" fill="#7cba44"/>
<text x="227.71" y="211.74" font-size="4.4" fill="#4a4a10" text-anchor="middle">CR</text>
<rect x="231.50" y="207.39" width="7.58" height="5.71" fill="#8fd0d3"/>
<rect x="239.07" y="207.39" width="7.58" height="5.71" fill="#8fd0d3"/>
<rect x="246.65" y="207.39" width="7.58" height="5.71" fill="#ede7d8"/>
<rect x="254.22" y="207.39" width="7.58" height="5.71" fill="#8fd0d3"/>
<rect x="201.20" y="213.10" width="7.58" height="5.71" fill="#f6c8c8"/>
<text transform="translate(204.99,217.65) scale(0.1)" font-size="48" fill="#2a2a2a" text-anchor="middle">3</text>
<rect x="208.77" y="213.10" width="7.58" height="5.71" fill="#f0a0a0"/>
<text transform="translate(212.56,217.65) scale(0.1)" font-size="48" fill="#2a2a2a" text-anchor="middle">4</text>
<rect x="216.35" y="213.10" width="7.58" height="5.71" fill="#d85050"/>
<text transform="translate(220.14,217.65) scale(0.1)" font-size="48" fill="#f4e4e4" text-anchor="middle">4</text>
<rect x="223.92" y="213.10" width="7.58" height="5.71" fill="#f7ef1e"/>
<text x="227.71" y="217.45" font-size="4.4" fill="#4a4a10" text-anchor="middle">P</text>
<rect x="231.50" y="213.10" width="7.58" height="5.71" fill="#d63d1f"/>
<rect x="239.07" y="213.10" width="7.58" height="5.71" fill="#d63d1f"/>
<rect x="246.65" y="213.10" width="7.58" height="5.71" fill="#d63d1f"/>
<rect x="254.22" y="213.10" width="7.58" height="5.71" fill="#8fd0d3"/>
<rect x="201.20" y="218.80" width="7.58" height="5.71" fill="#7c1414"/>
<text transform="translate(204.99,223.36) scale(0.1)" font-size="48" fill="#f4e4e4" text-anchor="middle">7</text>
<rect x="208.77" y="218.80" width="7.58" height="5.71" fill="#120404"/>
<text transform="translate(212.56,223.36) scale(0.1)" font-size="48" fill="#f4e4e4" text-anchor="middle">9</text>
<rect x="216.35" y="218.80" width="7.58" height="5.71" fill="#7c1414"/>
<text transform="translate(220.14,223.36) scale(0.1)" font-size="48" fill="#f4e4e4" text-anchor="middle">7</text>
<rect x="223.92" y="218.80" width="7.58" height="5.71" fill="#f2b21a"/>
<text x="227.71" y="223.16" font-size="4.4" fill="#4a4a10" text-anchor="middle">R</text>
<rect x="231.50" y="218.80" width="7.58" height="5.71" fill="#8fd0d3"/>
<rect x="239.07" y="218.80" width="7.58" height="5.71" fill="#d63d1f"/>
<rect x="246.65" y="218.80" width="7.58" height="5.71" fill="#8fd0d3"/>
<rect x="254.22" y="218.80" width="7.58" height="5.71" fill="#8fd0d3"/>
<path d="M201.20 53.30H261.80M201.20 59.01H261.80M201.20 64.71H261.80M201.20 70.42H261.80M201.20 76.13H261.80M201.20 81.83H261.80M201.20 87.54H261.80M201.20 93.25H261.80M201.20 98.96H261.80M201.20 104.66H261.80M201.20 110.37H261.80M201.20 116.08H261.80M201.20 121.78H261.80M201.20 127.49H261.80M201.20 133.20H261.80M201.20 138.91H261.80M201.20 144.61H261.80M201.20 150.32H261.80M201.20 156.03H261.80M201.20 161.73H261.80M201.20 167.44H261.80M201.20 173.15H261.80M201.20 178.85H261.80M201.20 184.56H261.80M201.20 190.27H261.80M201.20 195.97H261.80M201.20 201.68H261.80M201.20 207.39H261.80M201.20 213.10H261.80M201.20 218.80H261.80M201.20 224.51H261.80M201.20 53.30V224.51M208.77 53.30V224.51M216.35 53.30V224.51M223.92 53.30V224.51M231.50 53.30V224.51M239.07 53.30V224.51M246.65 53.30V224.51M254.22 53.30V224.51M261.80 53.30V224.51" stroke="#222" stroke-width="1.05" fill="none"/>
<text x="264.1" y="47.7" font-size="6.7" fill="#222" stroke="#222" stroke-width="0.18" textLength="22.8" lengthAdjust="spacingAndGlyphs">Subject</text>
<text x="280.2" y="223.25" font-size="6.6" fill="#222" stroke="#222" stroke-width="0.06" text-anchor="end" textLength="4.0" lengthAdjust="spacingAndGlyphs">1</text>
<text x="280.2" y="217.57" font-size="6.6" fill="#222" stroke="#222" stroke-width="0.06" text-anchor="end" textLength="4.0" lengthAdjust="spacingAndGlyphs">2</text>
<text x="280.2" y="211.90" font-size="6.6" fill="#222" stroke="#222" stroke-width="0.06" text-anchor="end" textLength="4.0" lengthAdjust="spacingAndGlyphs">3</text>
<text x="280.2" y="206.22" font-size="6.6" fill="#222" stroke="#222" stroke-width="0.06" text-anchor="end" textLength="4.0" lengthAdjust="spacingAndGlyphs">4</text>
<text x="280.2" y="200.55" font-size="6.6" fill="#222" stroke="#222" stroke-width="0.06" text-anchor="end" textLength="4.0" lengthAdjust="spacingAndGlyphs">5</text>
<text x="280.2" y="194.88" font-size="6.6" fill="#222" stroke="#222" stroke-width="0.06" text-anchor="end" textLength="4.0" lengthAdjust="spacingAndGlyphs">6</text>
<text x="280.2" y="189.20" font-size="6.6" fill="#222" stroke="#222" stroke-width="0.06" text-anchor="end" textLength="4.0" lengthAdjust="spacingAndGlyphs">7</text>
<text x="280.2" y="183.53" font-size="6.6" fill="#222" stroke="#222" stroke-width="0.06" text-anchor="end" textLength="4.0" lengthAdjust="spacingAndGlyphs">8</text>
<text x="280.2" y="177.85" font-size="6.6" fill="#222" stroke="#222" stroke-width="0.06" text-anchor="end" textLength="4.0" lengthAdjust="spacingAndGlyphs">9</text>
<text x="280.2" y="172.18" font-size="6.6" fill="#222" stroke="#222" stroke-width="0.06" text-anchor="end" textLength="7.9" lengthAdjust="spacingAndGlyphs">10</text>
<text x="280.2" y="166.51" font-size="6.6" fill="#222" stroke="#222" stroke-width="0.06" text-anchor="end" textLength="7.9" lengthAdjust="spacingAndGlyphs">11</text>
<text x="280.2" y="160.83" font-size="6.6" fill="#222" stroke="#222" stroke-width="0.06" text-anchor="end" textLength="7.9" lengthAdjust="spacingAndGlyphs">12</text>
<text x="280.2" y="155.16" font-size="6.6" fill="#222" stroke="#222" stroke-width="0.06" text-anchor="end" textLength="7.9" lengthAdjust="spacingAndGlyphs">13</text>
<text x="280.2" y="149.48" font-size="6.6" fill="#222" stroke="#222" stroke-width="0.06" text-anchor="end" textLength="7.9" lengthAdjust="spacingAndGlyphs">14</text>
<text x="280.2" y="143.81" font-size="6.6" fill="#222" stroke="#222" stroke-width="0.06" text-anchor="end" textLength="7.9" lengthAdjust="spacingAndGlyphs">15</text>
<text x="280.2" y="138.14" font-size="6.6" fill="#222" stroke="#222" stroke-width="0.06" text-anchor="end" textLength="7.9" lengthAdjust="spacingAndGlyphs">16</text>
<text x="280.2" y="132.46" font-size="6.6" fill="#222" stroke="#222" stroke-width="0.06" text-anchor="end" textLength="7.9" lengthAdjust="spacingAndGlyphs">17</text>
<text x="280.2" y="126.79" font-size="6.6" fill="#222" stroke="#222" stroke-width="0.06" text-anchor="end" textLength="7.9" lengthAdjust="spacingAndGlyphs">18</text>
<text x="280.2" y="121.11" font-size="6.6" fill="#222" stroke="#222" stroke-width="0.06" text-anchor="end" textLength="7.9" lengthAdjust="spacingAndGlyphs">19</text>
<text x="280.2" y="115.44" font-size="6.6" fill="#222" stroke="#222" stroke-width="0.06" text-anchor="end" textLength="7.9" lengthAdjust="spacingAndGlyphs">20</text>
<text x="280.2" y="109.77" font-size="6.6" fill="#222" stroke="#222" stroke-width="0.06" text-anchor="end" textLength="7.9" lengthAdjust="spacingAndGlyphs">21</text>
<text x="280.2" y="104.09" font-size="6.6" fill="#222" stroke="#222" stroke-width="0.06" text-anchor="end" textLength="7.9" lengthAdjust="spacingAndGlyphs">22</text>
<text x="280.2" y="98.42" font-size="6.6" fill="#222" stroke="#222" stroke-width="0.06" text-anchor="end" textLength="7.9" lengthAdjust="spacingAndGlyphs">23</text>
<text x="280.2" y="92.74" font-size="6.6" fill="#222" stroke="#222" stroke-width="0.06" text-anchor="end" textLength="7.9" lengthAdjust="spacingAndGlyphs">24</text>
<text x="280.2" y="87.07" font-size="6.6" fill="#222" stroke="#222" stroke-width="0.06" text-anchor="end" textLength="7.9" lengthAdjust="spacingAndGlyphs">25</text>
<text x="280.2" y="81.40" font-size="6.6" fill="#222" stroke="#222" stroke-width="0.06" text-anchor="end" textLength="7.9" lengthAdjust="spacingAndGlyphs">26</text>
<text x="280.2" y="75.72" font-size="6.6" fill="#222" stroke="#222" stroke-width="0.06" text-anchor="end" textLength="7.9" lengthAdjust="spacingAndGlyphs">27</text>
<text x="280.2" y="70.05" font-size="6.6" fill="#222" stroke="#222" stroke-width="0.06" text-anchor="end" textLength="7.9" lengthAdjust="spacingAndGlyphs">28</text>
<text x="280.2" y="64.37" font-size="6.6" fill="#222" stroke="#222" stroke-width="0.06" text-anchor="end" textLength="7.9" lengthAdjust="spacingAndGlyphs">29</text>
<text x="280.2" y="58.70" font-size="6.6" fill="#222" stroke="#222" stroke-width="0.06" text-anchor="end" textLength="7.9" lengthAdjust="spacingAndGlyphs">30</text>
<rect x="283.6" y="53.83" width="211.00" height="5.04" fill="#b8d3f0"/>
<rect x="283.6" y="59.50" width="163.90" height="5.04" fill="#b8d3f0"/>
<rect x="283.6" y="65.18" width="154.40" height="5.04" fill="#b8d3f0"/>
<rect x="283.6" y="70.85" width="150.65" height="5.04" fill="#b8d3f0"/>
<rect x="283.6" y="76.53" width="145.65" height="5.04" fill="#b8d3f0"/>
<rect x="283.6" y="82.20" width="139.90" height="5.04" fill="#b8d3f0"/>
<rect x="283.6" y="87.87" width="134.40" height="5.04" fill="#b8d3f0"/>
<rect x="283.6" y="93.55" width="120.65" height="5.04" fill="#b8d3f0"/>
<rect x="283.6" y="99.22" width="118.65" height="5.04" fill="#b8d3f0"/>
<rect x="283.6" y="104.90" width="117.40" height="5.04" fill="#b8d3f0"/>
<rect x="283.6" y="110.57" width="116.65" height="5.04" fill="#b8d3f0"/>
<rect x="283.6" y="116.24" width="111.40" height="5.04" fill="#b8d3f0"/>
<rect x="283.6" y="121.92" width="107.40" height="5.04" fill="#b8d3f0"/>
<rect x="283.6" y="127.59" width="103.15" height="5.04" fill="#b8d3f0"/>
<rect x="283.6" y="133.27" width="103.15" height="5.04" fill="#b8d3f0"/>
<rect x="283.6" y="138.94" width="89.65" height="5.04" fill="#b8d3f0"/>
<rect x="283.6" y="144.61" width="89.40" height="5.04" fill="#b8d3f0"/>
<rect x="283.6" y="150.29" width="85.90" height="5.04" fill="#b8d3f0"/>
<rect x="283.6" y="155.96" width="85.90" height="5.04" fill="#b8d3f0"/>
<rect x="283.6" y="161.64" width="80.40" height="5.04" fill="#b8d3f0"/>
<rect x="283.6" y="167.31" width="79.90" height="5.04" fill="#b8d3f0"/>
<rect x="283.6" y="172.98" width="68.50" height="5.04" fill="#b8d3f0"/>
<rect x="283.6" y="178.66" width="64.50" height="5.04" fill="#b8d3f0"/>
<rect x="283.6" y="184.33" width="62.20" height="5.04" fill="#b8d3f0"/>
<rect x="283.6" y="190.01" width="54.90" height="5.04" fill="#b8d3f0"/>
<rect x="283.6" y="195.68" width="46.65" height="5.04" fill="#b8d3f0"/>
<rect x="283.6" y="201.35" width="28.90" height="5.04" fill="#b8d3f0"/>
<rect x="283.6" y="207.03" width="10.65" height="5.04" fill="#b8d3f0"/>
<rect x="283.6" y="212.70" width="7.90" height="5.04" fill="#b8d3f0"/>
<rect x="283.6" y="218.38" width="7.65" height="5.04" fill="#b8d3f0"/>
<path d="M496.10 56.35H501.90" stroke="#2a3f70" stroke-width="0.8"/><path d="M501.30 55.30L504.40 56.35L501.30 57.40Z" fill="#1f3570"/><circle cx="496.10" cy="56.35" r="2.0" fill="#1f3a78"/>
<rect x="390.65" y="58.92" width="6.20" height="6.20" fill="#ffffff" fill-opacity="0.35"/><path d="M391.25 59.52L396.25 64.52M391.25 64.52L396.25 59.52M391.25 62.02H396.25M393.75 59.52V64.52" stroke="#cc4a78" stroke-width="1.00"/><rect x="392.65" y="60.92" width="2.2" height="2.2" fill="#c4002a"/>
<path d="M394.75 62.02L396.75 60.02L398.75 62.02L396.75 64.02Z" fill="#55b034"/>
<path d="M449.00 62.02H454.80" stroke="#2a3f70" stroke-width="0.8"/><path d="M454.20 60.97L457.30 62.02L454.20 63.07Z" fill="#1f3570"/><circle cx="449.00" cy="62.02" r="2.0" fill="#1f3a78"/>
<path d="M439.50 67.70H445.30" stroke="#2a3f70" stroke-width="0.8"/><path d="M444.70 66.65L447.80 67.70L444.70 68.75Z" fill="#1f3570"/><circle cx="439.50" cy="67.70" r="2.0" fill="#1f3a78"/>
<path d="M435.75 73.37H441.55" stroke="#2a3f70" stroke-width="0.8"/><path d="M440.95 72.32L444.05 73.37L440.95 74.42Z" fill="#1f3570"/><circle cx="435.75" cy="73.37" r="2.0" fill="#1f3a78"/>
<path d="M430.75 79.05H436.55" stroke="#2a3f70" stroke-width="0.8"/><path d="M435.95 78.00L439.05 79.05L435.95 80.10Z" fill="#1f3570"/><circle cx="430.75" cy="79.05" r="2.0" fill="#1f3a78"/>
<rect x="343.65" y="81.62" width="6.20" height="6.20" fill="#ffffff" fill-opacity="0.35"/><path d="M344.25 82.22L349.25 87.22M344.25 87.22L349.25 82.22M344.25 84.72H349.25M346.75 82.22V87.22" stroke="#cc4a78" stroke-width="1.00"/><rect x="345.65" y="83.62" width="2.2" height="2.2" fill="#c4002a"/>
<path d="M364.25 84.72L366.25 82.72L368.25 84.72L366.25 86.72Z" fill="#55b034"/>
<path d="M425.00 84.72H430.80" stroke="#2a3f70" stroke-width="0.8"/><path d="M430.20 83.67L433.30 84.72L430.20 85.77Z" fill="#1f3570"/><circle cx="425.00" cy="84.72" r="2.0" fill="#1f3a78"/>
<path d="M419.50 90.39H425.30" stroke="#2a3f70" stroke-width="0.8"/><path d="M424.70 89.34L427.80 90.39L424.70 91.44Z" fill="#1f3570"/><circle cx="419.50" cy="90.39" r="2.0" fill="#1f3a78"/>
<rect x="344.90" y="92.97" width="6.20" height="6.20" fill="#ffffff" fill-opacity="0.35"/><path d="M345.50 93.57L350.50 98.57M345.50 98.57L350.50 93.57M345.50 96.07H350.50M348.00 93.57V98.57" stroke="#cc4a78" stroke-width="1.00"/><rect x="346.90" y="94.97" width="2.2" height="2.2" fill="#c4002a"/>
<path d="M348.50 96.07L350.50 94.07L352.50 96.07L350.50 98.07Z" fill="#55b034"/>
<path d="M404.15 96.07H408.35M406.25 93.97V98.17" stroke="#222" stroke-width="1.00"/>
<rect x="293.90" y="98.64" width="6.20" height="6.20" fill="#ffffff" fill-opacity="0.35"/><path d="M294.50 99.24L299.50 104.24M294.50 104.24L299.50 99.24M294.50 101.74H299.50M297.00 99.24V104.24" stroke="#cc4a78" stroke-width="1.00"/><rect x="295.90" y="100.64" width="2.2" height="2.2" fill="#c4002a"/>
<path d="M300.50 101.74L302.50 99.74L304.50 101.74L302.50 103.74Z" fill="#55b034"/>
<path d="M403.75 101.74H409.55" stroke="#2a3f70" stroke-width="0.8"/><path d="M408.95 100.69L412.05 101.74L408.95 102.79Z" fill="#1f3570"/><circle cx="403.75" cy="101.74" r="2.0" fill="#1f3a78"/>
<path d="M402.50 107.42H408.30" stroke="#2a3f70" stroke-width="0.8"/><path d="M407.70 106.37L410.80 107.42L407.70 108.47Z" fill="#1f3570"/><circle cx="402.50" cy="107.42" r="2.0" fill="#1f3a78"/>
<path d="M401.75 113.09H407.55" stroke="#2a3f70" stroke-width="0.8"/><path d="M406.95 112.04L410.05 113.09L406.95 114.14Z" fill="#1f3570"/><circle cx="401.75" cy="113.09" r="2.0" fill="#1f3a78"/>
<path d="M396.50 118.76H402.30" stroke="#2a3f70" stroke-width="0.8"/><path d="M401.70 117.71L404.80 118.76L401.70 119.81Z" fill="#1f3570"/><circle cx="396.50" cy="118.76" r="2.0" fill="#1f3a78"/>
<path d="M392.50 124.44H398.30" stroke="#2a3f70" stroke-width="0.8"/><path d="M397.70 123.39L400.80 124.44L397.70 125.49Z" fill="#1f3570"/><circle cx="392.50" cy="124.44" r="2.0" fill="#1f3a78"/>
<path d="M388.25 130.11H394.05" stroke="#2a3f70" stroke-width="0.8"/><path d="M393.45 129.06L396.55 130.11L393.45 131.16Z" fill="#1f3570"/><circle cx="388.25" cy="130.11" r="2.0" fill="#1f3a78"/>
<path d="M388.25 135.79H394.05" stroke="#2a3f70" stroke-width="0.8"/><path d="M393.45 134.74L396.55 135.79L393.45 136.84Z" fill="#1f3570"/><circle cx="388.25" cy="135.79" r="2.0" fill="#1f3a78"/>
<path d="M329.25 141.46L331.25 139.46L333.25 141.46L331.25 143.46Z" fill="#55b034"/>
<path d="M374.75 141.46H380.55" stroke="#2a3f70" stroke-width="0.8"/><path d="M379.95 140.41L383.05 141.46L379.95 142.51Z" fill="#1f3570"/><circle cx="374.75" cy="141.46" r="2.0" fill="#1f3a78"/>
<path d="M374.50 147.13H380.30" stroke="#2a3f70" stroke-width="0.8"/><path d="M379.70 146.08L382.80 147.13L379.70 148.18Z" fill="#1f3570"/><circle cx="374.50" cy="147.13" r="2.0" fill="#1f3a78"/>
<path d="M371.00 152.81H376.80" stroke="#2a3f70" stroke-width="0.8"/><path d="M376.20 151.76L379.30 152.81L376.20 153.86Z" fill="#1f3570"/><circle cx="371.00" cy="152.81" r="2.0" fill="#1f3a78"/>
<path d="M371.00 158.48H376.80" stroke="#2a3f70" stroke-width="0.8"/><path d="M376.20 157.43L379.30 158.48L376.20 159.53Z" fill="#1f3570"/><circle cx="371.00" cy="158.48" r="2.0" fill="#1f3a78"/>
<path d="M365.50 164.16H371.30" stroke="#2a3f70" stroke-width="0.8"/><path d="M370.70 163.11L373.80 164.16L370.70 165.21Z" fill="#1f3570"/><circle cx="365.50" cy="164.16" r="2.0" fill="#1f3a78"/>
<path d="M365.00 169.83H370.80" stroke="#2a3f70" stroke-width="0.8"/><path d="M370.20 168.78L373.30 169.83L370.20 170.88Z" fill="#1f3570"/><circle cx="365.00" cy="169.83" r="2.0" fill="#1f3a78"/>
<path d="M353.60 175.50H359.40" stroke="#2a3f70" stroke-width="0.8"/><path d="M358.80 174.45L361.90 175.50L358.80 176.55Z" fill="#1f3570"/><circle cx="353.60" cy="175.50" r="2.0" fill="#1f3a78"/>
<rect x="338.10" y="178.08" width="6.20" height="6.20" fill="#ffffff" fill-opacity="0.35"/><path d="M338.70 178.68L343.70 183.68M338.70 183.68L343.70 178.68M338.70 181.18H343.70M341.20 178.68V183.68" stroke="#cc4a78" stroke-width="1.00"/><rect x="340.10" y="180.08" width="2.2" height="2.2" fill="#c4002a"/>
<path d="M345.30 181.18L347.30 179.18L349.30 181.18L347.30 183.18Z" fill="#55b034"/>
<path d="M349.60 181.18H355.40" stroke="#2a3f70" stroke-width="0.8"/><path d="M354.80 180.13L357.90 181.18L354.80 182.23Z" fill="#1f3570"/><circle cx="349.60" cy="181.18" r="2.0" fill="#1f3a78"/>
<path d="M347.30 186.85H353.10" stroke="#2a3f70" stroke-width="0.8"/><path d="M352.50 185.80L355.60 186.85L352.50 187.90Z" fill="#1f3570"/><circle cx="347.30" cy="186.85" r="2.0" fill="#1f3a78"/>
<path d="M340.00 192.53H345.80" stroke="#2a3f70" stroke-width="0.8"/><path d="M345.20 191.48L348.30 192.53L345.20 193.58Z" fill="#1f3570"/><circle cx="340.00" cy="192.53" r="2.0" fill="#1f3a78"/>
<path d="M330.15 198.20H334.35M332.25 196.10V200.30" stroke="#222" stroke-width="1.00"/>
<path d="M314.00 203.87H319.80" stroke="#2a3f70" stroke-width="0.8"/><path d="M319.20 202.82L322.30 203.87L319.20 204.92Z" fill="#1f3570"/><circle cx="314.00" cy="203.87" r="2.0" fill="#1f3a78"/>
<path d="M294.15 209.55H298.35M296.25 207.45V211.65" stroke="#222" stroke-width="1.00"/>
<path d="M291.40 215.22H295.60M293.50 213.12V217.32" stroke="#222" stroke-width="1.00"/>
<path d="M291.15 220.90H295.35M293.25 218.80V223.00" stroke="#222" stroke-width="1.00"/>
<line x1="283.1" y1="50.3" x2="283.1" y2="226.6" stroke="#111" stroke-width="1.3"/>
<line x1="283" y1="223.9" x2="512" y2="223.9" stroke="#111" stroke-width="1.1"/>
<line x1="283.25" y1="223.9" x2="283.25" y2="226.6" stroke="#111" stroke-width="1"/>
<text x="283.25" y="236.0" font-size="6.7" fill="#222" stroke="#222" stroke-width="0.12" text-anchor="middle" textLength="3.5" lengthAdjust="spacingAndGlyphs">0</text>
<line x1="318.45" y1="223.9" x2="318.45" y2="226.6" stroke="#111" stroke-width="1"/>
<text x="318.45" y="236.0" font-size="6.7" fill="#222" stroke="#222" stroke-width="0.12" text-anchor="middle" textLength="3.5" lengthAdjust="spacingAndGlyphs">1</text>
<line x1="353.65" y1="223.9" x2="353.65" y2="226.6" stroke="#111" stroke-width="1"/>
<text x="353.65" y="236.0" font-size="6.7" fill="#222" stroke="#222" stroke-width="0.12" text-anchor="middle" textLength="3.5" lengthAdjust="spacingAndGlyphs">2</text>
<line x1="388.85" y1="223.9" x2="388.85" y2="226.6" stroke="#111" stroke-width="1"/>
<text x="388.85" y="236.0" font-size="6.7" fill="#222" stroke="#222" stroke-width="0.12" text-anchor="middle" textLength="3.5" lengthAdjust="spacingAndGlyphs">3</text>
<line x1="424.05" y1="223.9" x2="424.05" y2="226.6" stroke="#111" stroke-width="1"/>
<text x="424.05" y="236.0" font-size="6.7" fill="#222" stroke="#222" stroke-width="0.12" text-anchor="middle" textLength="3.5" lengthAdjust="spacingAndGlyphs">4</text>
<line x1="459.25" y1="223.9" x2="459.25" y2="226.6" stroke="#111" stroke-width="1"/>
<text x="459.25" y="236.0" font-size="6.7" fill="#222" stroke="#222" stroke-width="0.12" text-anchor="middle" textLength="3.5" lengthAdjust="spacingAndGlyphs">5</text>
<line x1="494.45" y1="223.9" x2="494.45" y2="226.6" stroke="#111" stroke-width="1"/>
<text x="494.45" y="236.0" font-size="6.7" fill="#222" stroke="#222" stroke-width="0.12" text-anchor="middle" textLength="3.5" lengthAdjust="spacingAndGlyphs">6</text>
<text x="360.2" y="249.7" font-size="9.5" fill="#222" stroke="#222" stroke-width="0.4" word-spacing="1.3" textLength="74.7" lengthAdjust="spacingAndGlyphs">Years from transplantation</text>
<circle cx="406.3" cy="185.50" r="1.8" fill="#1f3a78"/>
<rect x="403.80" y="188.80" width="5.00" height="5.00" fill="#ffffff" fill-opacity="0.35"/><path d="M404.40 189.40L408.20 193.20M404.40 193.20L408.20 189.40M404.40 191.30H408.20M406.30 189.40V193.20" stroke="#cc4a78" stroke-width="1.10"/><rect x="405.20" y="190.20" width="2.2" height="2.2" fill="#c4002a"/>
<path d="M404.40 197.20H408.20M406.30 195.30V199.10" stroke="#222" stroke-width="0.95"/>
<path d="M404.10 203.20L406.30 201.00L408.50 203.20L406.30 205.40Z" fill="#55b034"/>
<text x="411.7" y="187.60" font-size="5.9" fill="#222" stroke="#222" stroke-width="0.08" textLength="12.5" lengthAdjust="spacingAndGlyphs">Alive</text>
<text x="411.7" y="193.40" font-size="5.9" fill="#222" stroke="#222" stroke-width="0.08" textLength="20.0" lengthAdjust="spacingAndGlyphs">Relapse</text>
<text x="411.7" y="199.30" font-size="5.9" fill="#222" stroke="#222" stroke-width="0.08" textLength="15.5" lengthAdjust="spacingAndGlyphs">Death</text>
<text x="411.7" y="205.30" font-size="5.9" fill="#222" stroke="#222" stroke-width="0.08" textLength="45.5" lengthAdjust="spacingAndGlyphs">Post HCT Therapy</text>
</svg></body></html>
